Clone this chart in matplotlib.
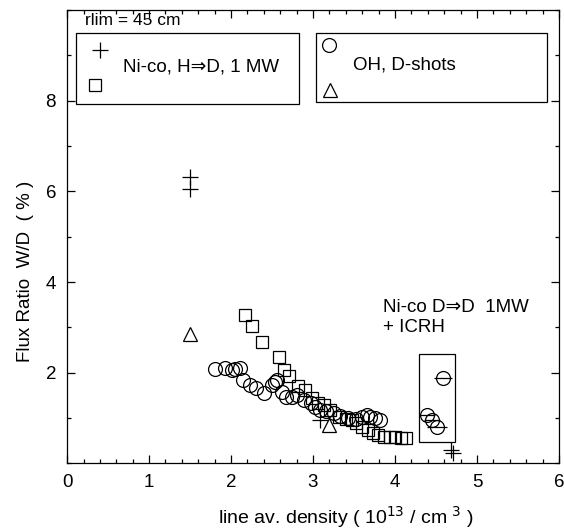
import matplotlib
matplotlib.use("Agg")
import matplotlib.pyplot as plt
from matplotlib.patches import Rectangle
from matplotlib.ticker import MultipleLocator

plt.rcParams['font.family'] = ['Liberation Sans', 'DejaVu Sans']

# Ni-co, H=>D, 1 MW : crosses and squares
cross_x = [1.50, 1.50, 3.09, 4.68, 4.71]
cross_y = [6.32, 6.05, 0.96, 0.30, 0.22]

square_x = [2.17, 2.26, 2.38, 2.58, 2.65, 2.71, 2.82, 2.90, 2.99, 3.06,
            3.13, 3.21, 3.32, 3.40, 3.48, 3.52, 3.60, 3.67, 3.73, 3.79,
            3.86, 3.94, 4.00, 4.07, 4.13]
square_y = [3.28, 3.04, 2.68, 2.35, 2.05, 1.93, 1.71, 1.61, 1.44, 1.33,
            1.29, 1.18, 1.03, 0.98, 0.96, 0.89, 0.81, 0.74, 0.68, 0.63,
            0.59, 0.58, 0.58, 0.57, 0.57]

# OH, D-shots : circles and triangles
circle_x = [1.81, 1.93, 2.01, 2.05, 2.11, 2.15, 2.23, 2.30, 2.40, 2.50,
            2.54, 2.56, 2.62, 2.67, 2.74, 2.80, 2.89, 2.97, 3.03, 3.09,
            3.16, 3.25, 3.33, 3.43, 3.53, 3.60, 3.66, 3.70, 3.76, 3.82]
circle_y = [2.08, 2.10, 2.06, 2.08, 2.10, 1.84, 1.73, 1.66, 1.55, 1.73,
            1.80, 1.84, 1.58, 1.47, 1.47, 1.51, 1.40, 1.33, 1.25, 1.18,
            1.16, 1.11, 1.05, 1.00, 0.98, 1.03, 1.07, 1.03, 1.00, 0.96]

triangle_x = [1.50, 3.20]
triangle_y = [2.85, 0.85]

# Ni-co D=>D 1MW + ICRH : circles with horizontal bars
icrh_x = [4.59, 4.39, 4.45, 4.51]
icrh_y = [1.89, 1.07, 0.96, 0.80]
icrh_xerr = [0.11, 0.10, 0.10, 0.12]
icrh_box = (4.29, 0.48, 0.44, 1.93)  # x, y, width, height

fig = plt.figure(figsize=(5.64, 5.32), dpi=100)
ax = fig.add_axes([0.119, 0.129, 0.872, 0.852])

ms_kw = dict(linestyle='none', color='black', markerfacecolor='none', markeredgewidth=0.9)
ax.plot(cross_x, cross_y, marker='+', markersize=11, **ms_kw)
ax.plot(square_x, square_y, marker='s', markersize=8, **ms_kw)
ax.plot(circle_x, circle_y, marker='o', markersize=10, **ms_kw)
ax.plot(triangle_x, triangle_y, marker='^', markersize=9.5, **ms_kw)
ax.errorbar(icrh_x, icrh_y, xerr=icrh_xerr, fmt='o', markersize=10, color='black',
            markerfacecolor='none', markeredgewidth=0.9, elinewidth=0.9, capsize=0)
ax.add_patch(Rectangle(icrh_box[:2], icrh_box[2], icrh_box[3], fill=False,
                       edgecolor='black', linewidth=0.9))

ax.set_xlim(0, 6)
ax.set_ylim(0, 10)
ax.set_xticks([0, 1, 2, 3, 4, 5, 6])
ax.set_yticks([2, 4, 6, 8])
ax.xaxis.set_minor_locator(MultipleLocator(0.2))
ax.yaxis.set_minor_locator(MultipleLocator(1))
ax.tick_params(which='both', direction='in', top=True, right=True, width=0.9)
ax.tick_params(which='major', length=6, labelsize=13.5, pad=8)
ax.tick_params(which='minor', length=3)
for s in ax.spines.values():
    s.set_linewidth(0.9)

# legend boxes
ax.add_patch(Rectangle((0.018, 0.793), 0.454, 0.156, transform=ax.transAxes,
                       fill=False, edgecolor='black', linewidth=0.9))
ax.plot([0.067], [0.912], marker='+', markersize=11, transform=ax.transAxes, **ms_kw)
ax.plot([0.057], [0.835], marker='s', markersize=8, transform=ax.transAxes, **ms_kw)
ax.text(0.114, 0.874, 'Ni-co, H\u21d2D, 1 MW', transform=ax.transAxes,
        fontsize=13.5, va='center', ha='left')

ax.add_patch(Rectangle((0.506, 0.797), 0.470, 0.152, transform=ax.transAxes,
                       fill=False, edgecolor='black', linewidth=0.9))
ax.plot([0.533], [0.923], marker='o', markersize=10, transform=ax.transAxes, **ms_kw)
ax.plot([0.535], [0.824], marker='^', markersize=9.5, transform=ax.transAxes, **ms_kw)
ax.text(0.581, 0.879, 'OH, D-shots', transform=ax.transAxes,
        fontsize=13.5, va='center', ha='left')

ax.text(0.037, 0.978, 'rlim = 45 cm', transform=ax.transAxes,
        fontsize=12.5, va='center', ha='left')
ax.text(0.642, 0.343, 'Ni-co D\u21d2D  1MW', transform=ax.transAxes,
        fontsize=13.5, va='center', ha='left')
ax.text(0.642, 0.299, '+ ICRH', transform=ax.transAxes,
        fontsize=13.5, va='center', ha='left')

fig.text(0.613, 0.028, 'line av. density ( 10$^{13}$ / cm $^{3}$ )',
         fontsize=14, ha='center', va='center')
fig.text(0.045, 0.49, 'Flux Ratio  W/D  ( % )', fontsize=13.5,
         rotation=90, ha='center', va='center')

fig.savefig('out.png', dpi=100)
